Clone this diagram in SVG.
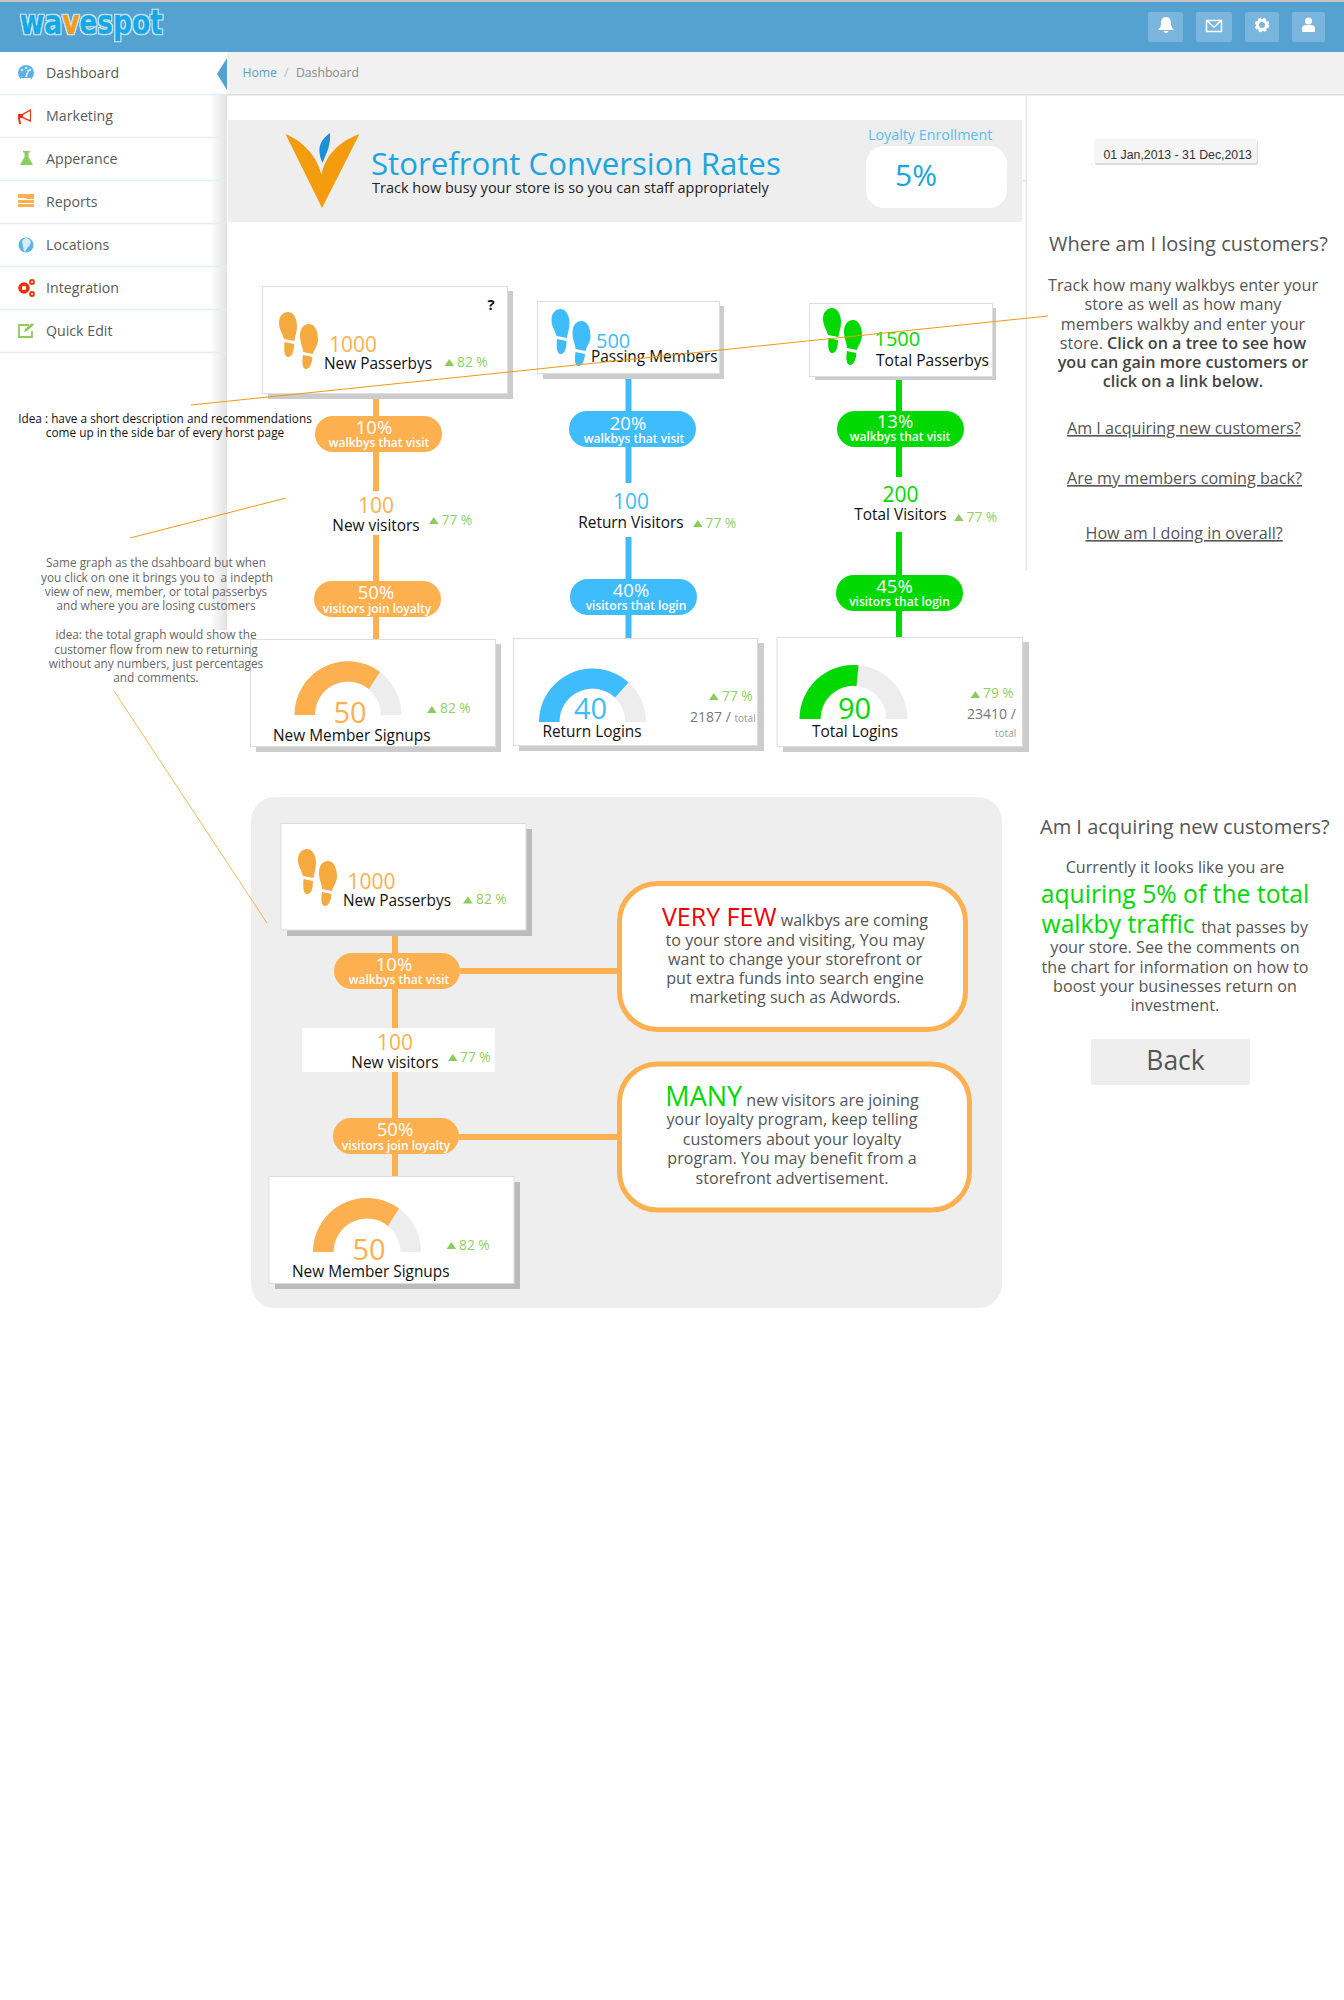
<svg xmlns="http://www.w3.org/2000/svg" width="1344" height="2000" viewBox="0 0 1344 2000">
<style>
text{font-family:"Open Sans","Noto Sans","Liberation Sans",sans-serif}
.nav{font-size:14.2px;fill:#5a5a5a}
.sep{stroke:#e4eff5;stroke-width:1.5}
.o{fill:#fdb04f}.b{fill:#3fbcfb}.g{fill:#00d900}
.card{fill:#fff;stroke:#ddd;stroke-width:1}
.shade{fill:#ccc}
.gbg{fill:#ededed}
.lbl{font-size:15.4px;fill:#111}
.num{font-size:21px}
.gnum{font-size:29px}
.pct{font-size:13.800px;fill:#8fd163}
.tri{fill:#8ccb5e}
.p1{font-size:18.5px;fill:#fff;text-anchor:middle}
.p2{font-size:12px;font-weight:600;fill:#fff;text-anchor:middle}
.m{text-anchor:middle}
.side{font-size:16.150px;fill:#555}
.sb{font-weight:600;fill:#444}
.h{font-size:20px;fill:#555}
.lnk{font-size:16.150px;fill:#555;text-decoration:underline}
.note{font-size:11.8px;fill:#111;text-anchor:middle}
.gray{font-size:11.8px;fill:#666;text-anchor:middle}
.box{font-size:16.100px;fill:#555;text-anchor:middle}
.tot{font-size:14px;fill:#777}
.tots{font-size:10px;fill:#999}
.ln{stroke-width:6;fill:none}
.ann{stroke:#f09a12;stroke-width:1;fill:none}
.btn{fill:#79b5dc}
.ic{fill:#fff}
</style>
<defs>
<linearGradient id="sb" x1="0" x2="1" y1="0" y2="0"><stop offset="0" stop-color="#fff"/><stop offset="1" stop-color="#e2e2e2"/></linearGradient>
<filter id="glow" x="-5%" y="-20%" width="110%" height="140%"><feMorphology in="SourceAlpha" operator="dilate" radius="1.200" result="d"/><feFlood flood-color="#c9ebf9"/><feComposite in2="d" operator="in" result="w"/><feMerge><feMergeNode in="w"/><feMergeNode in="SourceGraphic"/></feMerge></filter>
<path id="feet" d="M9 0C14 0 18 6 18 14C18 20 16 24 15.5 29L5 27C4 22 0 18 0 11C0 4 4 0 9 0ZM5.500 30L15 32C15 38 14 45 9 45C6 45 4.500 40 5.500 30ZM30 12C35 12 39 18 39 27C39 34 35 37 34 42L24 40C24 35 21 31 21 24C21 16 25 12 30 12ZM24 43L33.500 45C33 51 31 57 27 57C24 57 22.500 52 24 43Z"/>
<path id="up" d="M0 7L4.800 0L9.600 7Z"/>
</defs>
<rect width="1344" height="2000" fill="#fff"/>

<g id="header">
<rect y="0" width="1344" height="2" fill="#c4c4c4"/>
<rect y="2" width="1344" height="50" fill="#55a1d0"/>
<text x="20" y="34" font-size="33" font-weight="700" textLength="143" lengthAdjust="spacingAndGlyphs" fill="#13a8e4" stroke="#13a8e4" stroke-width="0.6" filter="url(#glow)" style="font-family:'DejaVu Sans',sans-serif">wa<tspan fill="#f39c12" stroke="#f39c12">v</tspan>espot</text>
<rect class="btn" x="1148" y="12" width="35" height="30" rx="2"/>
<rect class="btn" x="1196" y="12" width="36" height="30" rx="2"/>
<rect class="btn" x="1245" y="12" width="34" height="30" rx="2"/>
<rect class="btn" x="1292" y="12" width="33" height="30" rx="2"/>
<path class="ic" d="M1166 17C1170 17 1171 20 1171 24C1171 27 1173 29 1174 30H1158C1159 29 1161 27 1161 24C1161 20 1162 17 1166 17ZM1163.500 31H1168.500C1168 33.500 1164 33.500 1163.500 31Z"/>
<path d="M1206.500 20.500H1221.500V31.500H1206.500ZM1206.500 20.500L1214 27L1221.500 20.500" fill="none" stroke="#fff" stroke-width="1.500"/>
<circle cx="1262" cy="25" r="4.500" fill="none" stroke="#fff" stroke-width="3"/>
<circle cx="1262" cy="25" r="6.300" fill="none" stroke="#fff" stroke-width="2" stroke-dasharray="3 2"/>
<circle class="ic" cx="1308.500" cy="21" r="3.500"/>
<path class="ic" d="M1302 32V28C1302 25.500 1305 25 1308.500 25C1312 25 1315 25.500 1315 28V32Z"/>
</g>

<g id="sidebar">
<rect x="210" y="94" width="17" height="536" fill="url(#sb)"/>
<g id="nav-dashboard"><circle cx="26" cy="73" r="8" fill="#5cb3e8"/><path d="M21 81H31V78H21Z" fill="#fff"/><circle cx="22" cy="70" r="1.100" fill="#fff"/><circle cx="26" cy="68" r="1.100" fill="#fff"/><circle cx="30" cy="70" r="1.100" fill="#fff"/><path d="M26 77L28.500 70" stroke="#fff" stroke-width="1.200"/><text class="nav" x="46" y="78">Dashboard</text></g>
<line class="sep" x1="0" x2="226" y1="94.500" y2="94.500"/>
<g id="nav-marketing"><path d="M18 114H22L31 109V122L22 118H20L21 124H19L18 118Z" fill="#e8320a"/><path d="M23 115L30 111V120L23 117Z" fill="#fff"/><text class="nav" x="46" y="121">Marketing</text></g>
<line class="sep" x1="0" x2="226" y1="137.500" y2="137.500"/>
<g id="nav-apperance"><path d="M23 151H30V152.500H28.500V157L33 165H20L24.500 157V152.500H23Z" fill="#8ccb5e"/><text class="nav" x="46" y="164">Apperance</text></g>
<line class="sep" x1="0" x2="226" y1="180.500" y2="180.500"/>
<g id="nav-reports"><path d="M18 194H34V199H26V198H18ZM18 200H34V203H18ZM18 204H34V207H18Z" fill="#fdb04f"/><text class="nav" x="46" y="207">Reports</text></g>
<line class="sep" x1="0" x2="226" y1="223.500" y2="223.500"/>
<g id="nav-locations"><circle cx="26" cy="245" r="7.500" fill="#5cb3e8"/><path d="M26 238C31 239 32 243 29 246C27 248 26 250 25 252C22 249 24 245 22 243C22 240 24 239 26 238Z" fill="#d7eefa"/><text class="nav" x="46" y="250">Locations</text></g>
<line class="sep" x1="0" x2="226" y1="266.500" y2="266.500"/>
<g id="nav-integration"><circle cx="24" cy="288" r="4" fill="none" stroke="#e8320a" stroke-width="3.500"/><circle cx="32" cy="282" r="2" fill="none" stroke="#e8320a" stroke-width="1.800"/><circle cx="32" cy="294" r="2" fill="none" stroke="#e8320a" stroke-width="1.800"/><text class="nav" x="46" y="293">Integration</text></g>
<line class="sep" x1="0" x2="226" y1="309.500" y2="309.500"/>
<g id="nav-quickedit"><path d="M32 331V337H19V325H29" fill="none" stroke="#8ccb5e" stroke-width="1.800"/><path d="M24 332L25 329L32 323L34 325L27 331Z" fill="#8ccb5e"/><text class="nav" x="46" y="336">Quick Edit</text></g>
<line class="sep" x1="0" x2="226" y1="352.500" y2="352.500"/>
</g>

<g id="breadcrumb">
<rect x="227" y="52" width="1117" height="42" fill="#f1f1f1"/>
<rect x="227" y="94" width="1117" height="1.500" fill="#dcdcdc"/>
<path d="M227 58L217 74L227 90Z" fill="#55a1d0"/>
<text x="242.500" y="77" font-size="12.200" fill="#5d9fc9">Home</text>
<text x="284" y="77" font-size="12.200" fill="#bbb">/</text>
<text x="296" y="77" font-size="12.200" fill="#888">Dashboard</text>
</g>

<g id="banner">
<rect x="228" y="120" width="794" height="102" fill="#eee"/>
<path d="M285.500 134C298 139 316 152 321.500 175C325 155 340 141 359.500 134L322 208Z" fill="#f39c0e"/>
<path d="M330 133C331 145 327 152 322.500 163C318 152 317 142 330 133Z" fill="#1c8fd6"/>
<text x="371" y="175" font-size="31.200" fill="#1aa5de">Storefront Conversion Rates</text>
<text x="372" y="193" font-size="14.500" fill="#222">Track how busy your store is so you can staff appropriately</text>
<text x="868" y="140" font-size="14.300" fill="#55c0f0">Loyalty Enrollment</text>
<rect x="866" y="146" width="141" height="62" rx="18" fill="#fff"/>
<text x="895" y="186" font-size="30" fill="#1aa5de">5%</text>
</g>

<g id="right-rail">
<rect x="1025.500" y="94" width="1.500" height="477" fill="#e6e6e6"/>
<rect x="1022" y="180" width="4" height="1" fill="#ddd"/>
<g id="date-range"><rect x="1095" y="141" width="163" height="24" rx="2" fill="#ccc" opacity=".7"/><rect x="1094" y="139" width="163" height="24" rx="2" fill="#f5f5f5"/><text x="1103.500" y="159" font-size="12.300" fill="#333" style="font-family:'Liberation Sans',sans-serif">01 Jan,2013 - 31 Dec,2013</text></g>
<text class="h" x="1049" y="251">Where am I losing customers?</text>
<g id="side-copy">
<text class="side m" x="1183" y="291">Track how many walkbys enter your</text>
<text class="side m" x="1183" y="310">store as well as how many</text>
<text class="side m" x="1183" y="330">members walkby and enter your</text>
<text class="side m" x="1183" y="349">store. <tspan class="sb">Click on a tree to see how</tspan></text>
<text class="side sb m" x="1183" y="368">you can gain more customers or</text>
<text class="side sb m" x="1183" y="387">click on a link below.</text>
</g>
<text class="lnk" x="1067" y="434">Am I acquiring new customers?</text>
<text class="lnk" x="1067" y="484">Are my members coming back?</text>
<text class="lnk" x="1085.500" y="539">How am I doing in overall?</text>
</g>

<g id="panel-bg"><rect x="251" y="797" width="751" height="511" rx="24" fill="#eee"/></g>

<g id="connectors">
<path class="ln" stroke="#fdb04f" d="M376 394V491M376 535V639"/>
<path class="ln" stroke="#3fbcfb" d="M628.500 374V483M628.500 537V638"/>
<path class="ln" stroke="#00d900" d="M899 377V477M899 532V637"/>
<path class="ln" stroke="#fdb04f" d="M395 930V1176M460 971H618M459 1137H618"/>
</g>

<g id="card-new-passerbys">
<rect class="shade" x="268" y="291" width="245" height="108"/><rect class="card" x="262.500" y="286.500" width="245" height="107"/>
<text x="491" y="310" font-size="15" font-weight="700" fill="#111" text-anchor="middle">?</text>
<use href="#feet" x="279" y="312" fill="#f4aa3e"/>
<text class="num o" x="329" y="352">1000</text>
<text class="lbl" x="324" y="369">New Passerbys</text>
<use href="#up" class="tri" x="444.500" y="359"/><text class="pct" x="457" y="367">82 %</text>
</g>
<g id="pill-visit-new"><rect class="o" x="315" y="416" width="127" height="36" rx="18"/><text class="p1" x="374" y="434">10%</text><text class="p2" x="379" y="447">walkbys that visit</text></g>
<g id="stat-new-visitors"><text class="num o m" x="376" y="513">100</text><text class="lbl m" x="376" y="531">New visitors</text><use href="#up" class="tri" x="429" y="517"/><text class="pct" x="441.500" y="525">77 %</text></g>
<g id="pill-loyalty"><rect class="o" x="314" y="581" width="127" height="36" rx="18"/><text class="p1" x="376" y="599">50%</text><text class="p2" x="377" y="613">visitors join loyalty</text></g>
<g id="card-new-signups">
<rect class="shade" x="256" y="644" width="245" height="108"/><rect class="card" x="250.500" y="639.500" width="245" height="107"/>
<path class="gbg" d="M294.500 715A53.500 53.500 0 0 1 401.500 715H381A33 33 0 0 0 315 715Z"/>
<path class="o" d="M294.500 715A53.500 53.500 0 0 1 380 672L369 689A33 33 0 0 0 315 715Z"/>
<text class="gnum o m" x="350" y="723">50</text>
<text class="lbl" x="273" y="741">New Member Signups</text>
<use href="#up" class="tri" x="427" y="706"/><text class="pct" x="440" y="713">82 %</text>
</g>

<g id="card-passing-members">
<rect class="shade" x="543" y="306" width="181" height="73"/><rect class="card" x="537.500" y="301.500" width="182" height="72"/>
<use href="#feet" x="551.500" y="309" fill="#3fbcfb"/>
<text class="num b" x="596" y="348" style="font-size:20px">500</text>
<text class="lbl" x="591" y="362">Passing Members</text>
</g>
<g id="pill-visit-return"><rect class="b" x="569" y="411" width="127" height="36" rx="18"/><text class="p1" x="628" y="430">20%</text><text class="p2" x="634" y="443">walkbys that visit</text></g>
<g id="stat-return-visitors"><text class="num b m" x="631" y="509">100</text><text class="lbl m" x="631" y="528">Return Visitors</text><use href="#up" class="tri" x="693" y="520"/><text class="pct" x="705.500" y="528">77 %</text></g>
<g id="pill-login-return"><rect class="b" x="570" y="579" width="127" height="36" rx="18"/><text class="p1" x="631" y="597">40%</text><text class="p2" x="636" y="610">visitors that login</text></g>
<g id="card-return-logins">
<rect class="shade" x="519" y="643" width="245" height="108"/><rect class="card" x="513.500" y="638.500" width="244" height="107"/>
<path class="gbg" d="M539 722A53.500 53.500 0 0 1 646 722H625.500A33 33 0 0 0 559.500 722Z"/>
<path class="b" d="M539 722A53.500 53.500 0 0 1 628.500 682.500L615 697.500A33 33 0 0 0 559.500 722Z"/>
<text class="gnum b m" x="590.500" y="719">40</text>
<text class="lbl m" x="592" y="737">Return Logins</text>
<use href="#up" class="tri" x="709" y="693"/><text class="pct" x="722" y="701">77 %</text>
<text class="tot" x="690" y="722">2187 / <tspan class="tots">total</tspan></text>
</g>

<g id="card-total-passerbys">
<rect class="shade" x="815" y="308" width="181" height="72"/><rect class="card" x="809.500" y="303.500" width="183" height="73"/>
<use href="#feet" x="823" y="308" fill="#00d900"/>
<text class="num g" x="874.500" y="346" style="font-size:20px">1500</text>
<text class="lbl" x="876" y="366" style="font-size:15.6px">Total Passerbys</text>
</g>
<g id="pill-visit-total"><rect class="g" x="837" y="411" width="127" height="36" rx="18"/><text class="p1" x="895" y="428">13%</text><text class="p2" x="900" y="441">walkbys that visit</text></g>
<g id="stat-total-visitors"><text class="num g m" x="900.500" y="502">200</text><text class="lbl m" x="900.500" y="520">Total Visitors</text><use href="#up" class="tri" x="954" y="514"/><text class="pct" x="966.500" y="522">77 %</text></g>
<g id="pill-login-total"><rect class="g" x="836" y="575" width="127" height="36" rx="18"/><text class="p1" x="894.500" y="593">45%</text><text class="p2" x="899.500" y="606">visitors that login</text></g>
<g id="card-total-logins">
<rect class="shade" x="783" y="642" width="246" height="110"/><rect class="card" x="777" y="637.500" width="245.500" height="109"/>
<path class="gbg" d="M799.500 719A54 54 0 0 1 907.500 719H886.500A33 33 0 0 0 820.500 719Z"/>
<path class="g" d="M799.500 719A54 54 0 0 1 858.500 665.200L856.500 686A33 33 0 0 0 820.500 719Z"/>
<text class="gnum g m" x="854.500" y="719">90</text>
<text class="lbl m" x="855" y="737">Total Logins</text>
<use href="#up" class="tri" x="970.500" y="691"/><text class="pct" x="983" y="698">79 %</text>
<text class="tot" x="967" y="719">23410 /</text>
<text class="tots" x="995" y="737">total</text>
</g>

<g id="annotation-text">
<text class="note" x="165" y="423">Idea : have a short description and recommendations</text>
<text class="note" x="165" y="437">come up in the side bar of every horst page</text>
<text class="gray" x="156" y="567">Same graph as the dsahboard but when</text>
<text class="gray" x="157" y="582" xml:space="preserve">you click on one it brings you to  a indepth</text>
<text class="gray" x="156" y="596">view of new, member, or total passerbys</text>
<text class="gray" x="156" y="610">and where you are losing customers</text>
<text class="gray" x="156" y="639">idea: the total graph would show the</text>
<text class="gray" x="156" y="654">customer flow from new to returning</text>
<text class="gray" x="156" y="668">without any numbers, just percentages</text>
<text class="gray" x="156" y="682">and comments.</text>
</g>

<g id="detail-passerbys">
<rect fill="#bbb" x="287" y="829" width="245" height="107"/><rect x="281" y="823.500" width="245" height="106.500" fill="#fff" stroke="#ddd"/>
<use href="#feet" x="298" y="849" fill="#f4aa3e"/>
<text class="num o" x="347.500" y="889">1000</text>
<text class="lbl" x="343" y="906">New Passerbys</text>
<use href="#up" class="tri" x="463" y="896.500"/><text class="pct" x="476" y="904">82 %</text>
</g>
<g id="detail-pill-visit"><rect class="o" x="334" y="953" width="126" height="36" rx="18"/><text class="p1" x="394" y="971">10%</text><text class="p2" x="399" y="984">walkbys that visit</text></g>
<g id="detail-new-visitors"><rect x="302" y="1028" width="193" height="44" fill="#fff"/><text class="num o m" x="395" y="1049.500">100</text><text class="lbl m" x="395" y="1068">New visitors</text><use href="#up" class="tri" x="448" y="1054"/><text class="pct" x="460" y="1062">77 %</text></g>
<g id="detail-pill-loyalty"><rect class="o" x="333" y="1118" width="126" height="36" rx="18"/><text class="p1" x="395" y="1136">50%</text><text class="p2" x="396" y="1150">visitors join loyalty</text></g>
<g id="detail-signups">
<rect fill="#bbb" x="275" y="1182" width="245" height="107"/><rect x="269" y="1176.500" width="245" height="107" fill="#fff" stroke="#ddd"/>
<path class="gbg" d="M313 1252A54 54 0 0 1 421 1252H400.500A33.500 33.500 0 0 0 333.500 1252Z"/>
<path class="o" d="M313 1252A54 54 0 0 1 399 1208.500L388 1226A33.500 33.500 0 0 0 333.500 1252Z"/>
<text class="gnum o m" x="369" y="1259.500">50</text>
<text class="lbl" x="292" y="1277">New Member Signups</text>
<use href="#up" class="tri" x="446.500" y="1242"/><text class="pct" x="459" y="1250">82 %</text>
</g>
<g id="callout-very-few">
<rect x="619.500" y="883.500" width="346" height="146" rx="38" fill="#fff" stroke="#fdb04f" stroke-width="5"/>
<text class="box" x="795" y="926"><tspan font-size="25" fill="#f00000">VERY FEW</tspan> walkbys are coming</text>
<text class="box" x="795" y="945.500">to your store and visiting, You may</text>
<text class="box" x="795" y="964.500">want to change your storefront or</text>
<text class="box" x="795" y="984">put extra funds into search engine</text>
<text class="box" x="795" y="1003">marketing such as Adwords.</text>
</g>
<g id="callout-many">
<rect x="619.500" y="1064" width="350" height="146" rx="38" fill="#fff" stroke="#fdb04f" stroke-width="5"/>
<text class="box" x="792" y="1106"><tspan font-size="27" fill="#00d900">MANY</tspan> new visitors are joining</text>
<text class="box" x="792" y="1125">your loyalty program, keep telling</text>
<text class="box" x="792" y="1144.500">customers about your loyalty</text>
<text class="box" x="792" y="1163.500">program. You may benefit from a</text>
<text class="box" x="792" y="1183.500">storefront advertisement.</text>
</g>

<g id="detail-copy">
<text class="h" x="1040" y="834">Am I acquiring new customers?</text>
<text class="side m" x="1175" y="873">Currently it looks like you are</text>
<text class="m" x="1175" y="903" font-size="24.700" fill="#00d900">aquiring 5% of the total</text>
<text x="1041.500" y="933" font-size="24.700" fill="#00d900">walkby traffic <tspan font-size="16" fill="#555">that passes by</tspan></text>
<text class="side m" x="1175" y="953">your store. See the comments on</text>
<text class="side m" x="1175" y="972.500">the chart for information on how to</text>
<text class="side m" x="1175" y="991.500">boost your businesses return on</text>
<text class="side m" x="1175" y="1011">investment.</text>
<g id="back-button"><rect x="1091" y="1039" width="159" height="46" rx="2" fill="#eee"/><text class="m" x="1175.500" y="1070" font-size="26.500" fill="#555">Back</text></g>
</g>

<g id="annotation-lines">
<line class="ann" x1="191" y1="405" x2="1048" y2="316"/>
<line class="ann" x1="130" y1="538" x2="286" y2="498"/>
<line class="ann" style="stroke-width:.7" x1="114" y1="691" x2="267" y2="923"/>
</g>
</svg>
